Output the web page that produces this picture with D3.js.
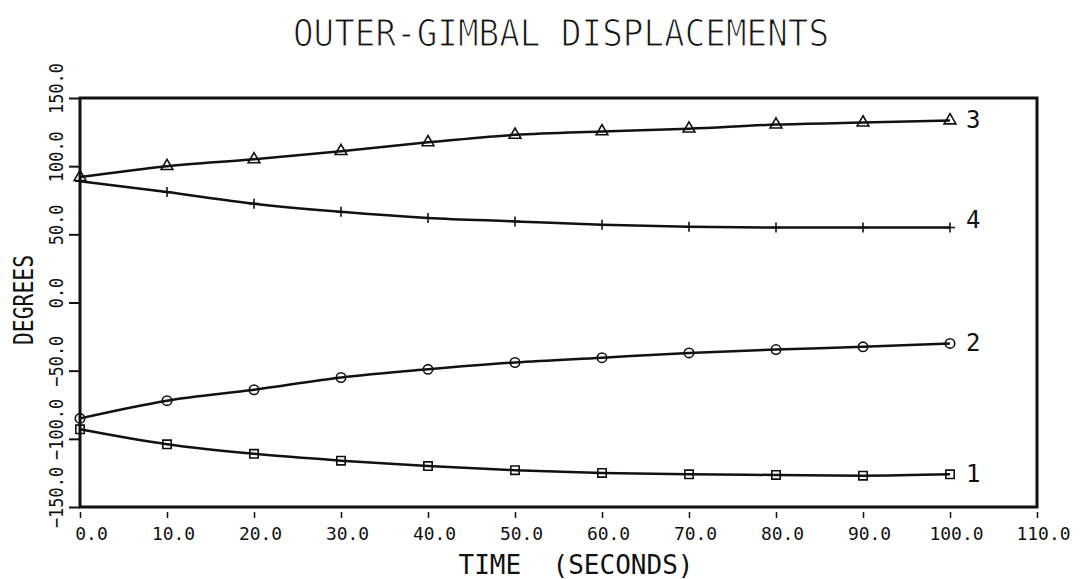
<!DOCTYPE html>
<html>
<head>
<meta charset="utf-8">
<script src="https://cdn.jsdelivr.net/npm/d3@7"></script>
<style>
  body { margin: 0; background: #fff; }
  text { font-family: "DejaVu Sans Mono", monospace; fill: #111; white-space: pre; }
  .thin { stroke: #fff; stroke-width: 1.2px; }
</style>
</head>
<body>
<div id="chart"></div>
<script>
// Données
const times = [0, 10, 20, 30, 40, 50, 60, 70, 80, 90, 100];
const series1 = [-93, -104, -111, -116, -120, -123, -125, -126, -126.5, -127, -126];
const series2 = [-85, -72, -64, -55, -49, -44, -40.5, -37, -34.5, -32.5, -30];
const series3 = [92, 100, 105, 111, 117.5, 123, 125.5, 127.5, 130.5, 132, 133.5];
const series4 = [89, 81, 72.5, 66.5, 62, 59.5, 57, 55.5, 55, 55, 55];
const seriesNames = ["1", "2", "3", "4"];
const xTicks = [0, 10, 20, 30, 40, 50, 60, 70, 80, 90, 100, 110];
const yTicks = [-150, -100, -50, 0, 50, 100, 150];

const width = 1087;
const height = 579;

const svg = d3
  .select("#chart")
  .append("svg")
  .attr("width", width)
  .attr("height", height);

// Échelles
const x = d3.scaleLinear().domain([0, 110]).range([80, 1037]);
const y = d3.scaleLinear().domain([-150, 150]).range([507, 98]);

// Titre
svg
  .append("text")
  .attr("class", "thin")
  .attr("x", 561)
  .attr("y", 46)
  .attr("text-anchor", "middle")
  .attr("font-size", 38)
  .attr("textLength", 536)
  .attr("lengthAdjust", "spacingAndGlyphs")
  .text("OUTER-GIMBAL DISPLACEMENTS");

// Cadre
svg
  .append("rect")
  .attr("x", x(0))
  .attr("y", y(150))
  .attr("width", x(110) - x(0))
  .attr("height", y(-150) - y(150))
  .style("fill", "none")
  .style("stroke", "#111")
  .style("stroke-width", 3);

// Axe X
const xAxis = svg
  .append("g")
  .attr("transform", `translate(0,${y(-150) + 5})`)
  .call(
    d3.axisBottom(x).tickValues(xTicks).tickSize(6).tickFormat(d3.format(".1f"))
  );
xAxis.select(".domain").remove();
xAxis.selectAll(".tick line").style("stroke", "#111").style("stroke-width", 1.5);
xAxis
  .selectAll(".tick text")
  .attr("y", 15)
  .attr("dx", (d) => (d === 0 ? 11 : 6))
  .attr("font-size", 18)
  .attr("textLength", (d) => d3.format(".1f")(d).length * 10.8)
  .attr("lengthAdjust", "spacingAndGlyphs")
  .style("font-family", '"DejaVu Sans Mono", monospace')
  .style("fill", "#111");

// Axe Y
const yAxis = svg
  .append("g")
  .attr("transform", `translate(${x(0)},0)`)
  .call(d3.axisLeft(y).tickValues(yTicks).tickSize(11).tickFormat(d3.format(".1f")));
yAxis.select(".domain").remove();
yAxis.selectAll(".tick line").style("stroke", "#111").style("stroke-width", 2);
yAxis
  .selectAll(".tick text")
  .attr("x", null)
  .attr("dy", null)
  .attr("text-anchor", "middle")
  .attr("dominant-baseline", "central")
  .attr("transform", "translate(-24,-10) rotate(-90)")
  .attr("font-size", 20)
  .attr("textLength", (d) => d3.format(".1f")(d).length * 10.2)
  .attr("lengthAdjust", "spacingAndGlyphs")
  .style("font-family", '"DejaVu Sans Mono", monospace')
  .style("fill", "#111");

// Titres des axes
svg
  .append("text")
  .attr("x", 576)
  .attr("y", 574)
  .attr("text-anchor", "middle")
  .attr("font-size", 26)
  .attr("textLength", 235)
  .attr("lengthAdjust", "spacingAndGlyphs")
  .text("TIME  (SECONDS)");

svg
  .append("text")
  .attr("transform", "translate(33,300) rotate(-90)")
  .attr("text-anchor", "middle")
  .attr("font-size", 27)
  .attr("textLength", 90)
  .attr("lengthAdjust", "spacingAndGlyphs")
  .text("DEGREES");

// Courbes
const allSeries = [series1, series2, series3, series4];
const line = d3
  .line()
  .x((d, i) => x(times[i]))
  .y((d) => y(d))
  .curve(d3.curveMonotoneX);

allSeries.forEach((values) => {
  svg
    .append("path")
    .datum(values)
    .attr("d", line)
    .style("fill", "none")
    .style("stroke", "#111")
    .style("stroke-width", 2.5);
});

// Marqueurs
const markerPaths = [
  d3.symbol().type(d3.symbolSquare).size(70)(),
  d3.symbol().type(d3.symbolCircle).size(70)(),
  d3.symbol().type(d3.symbolTriangle).size(60)(),
  "M-5,0H5M0,-5V5"
];

allSeries.forEach((values, k) => {
  svg
    .append("g")
    .selectAll("path")
    .data(values)
    .enter()
    .append("path")
    .attr("transform", (d, i) => `translate(${x(times[i])},${y(d)})`)
    .attr("d", markerPaths[k])
    .style("fill", "none")
    .style("stroke", "#111")
    .style("stroke-width", 1.6);

  // Étiquette de la courbe
  svg
    .append("text")
    .attr("x", x(times[times.length - 1]) + 16)
    .attr("y", y(values[values.length - 1]) + (k === 3 ? -8 : 0))
    .attr("dominant-baseline", "central")
    .attr("font-size", 24)
    .text(seriesNames[k]);
});
</script>
</body>
</html>
